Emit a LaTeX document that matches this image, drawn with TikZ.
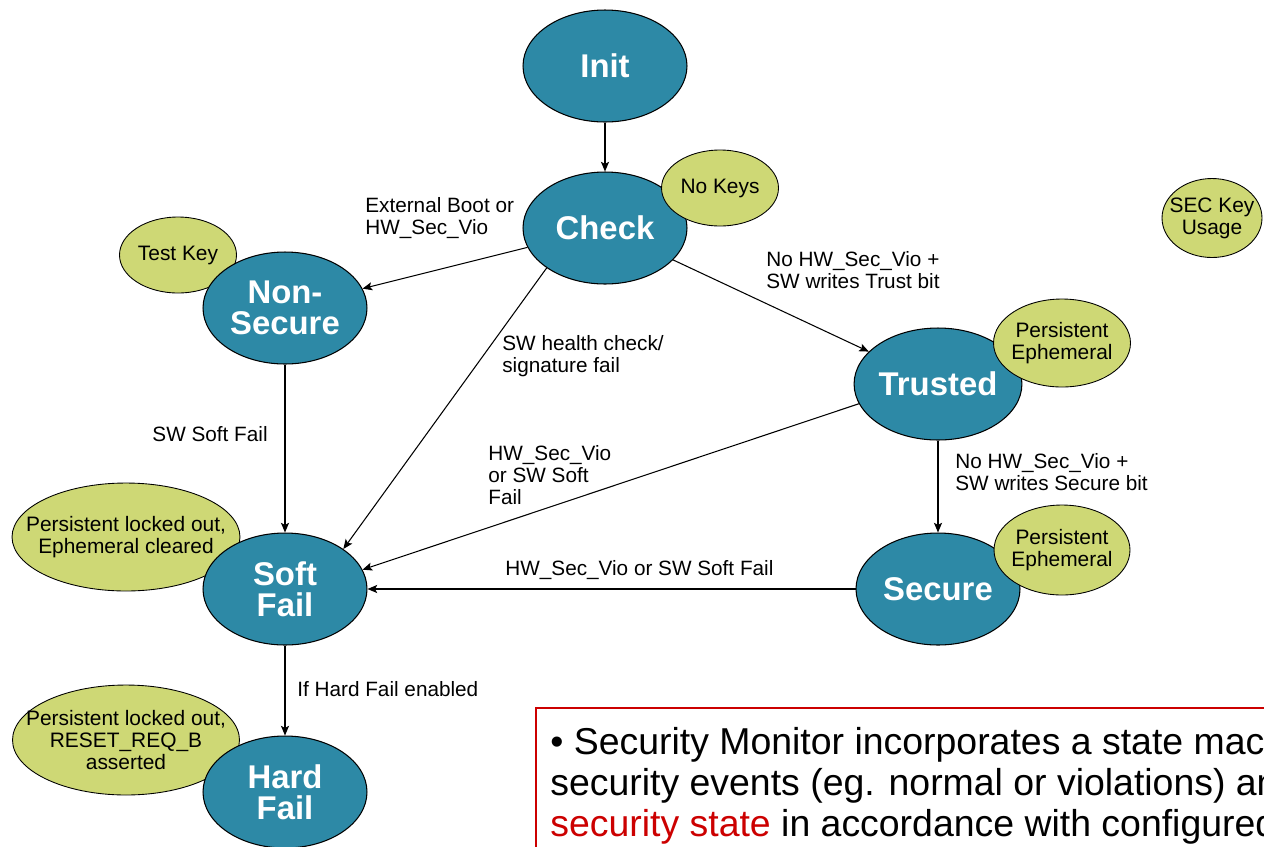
\documentclass[tikz,border=0pt]{standalone}
\usepackage{fontspec}
\setmainfont{Liberation Sans}
\usepackage{xcolor}
\usepackage{tikz}
\usetikzlibrary{arrows.meta,shapes.geometric,positioning}

\definecolor{stateteal}{RGB}{45,137,166}
\definecolor{notelime}{RGB}{206,216,117}
\definecolor{boxred}{RGB}{204,0,0}

\begin{document}
\begin{tikzpicture}[x=0.02cm, y=-0.02cm, >={Stealth[length=5.5pt,width=4.6pt,inset=1.2pt]},
  state/.style={ellipse, draw=black, line width=0.6pt, fill=stateteal, text=white, inner sep=0pt,
    minimum width=3.28cm, minimum height=2.24cm, align=center,
    font=\bfseries\fontsize{18.7}{17.6}\selectfont},
  note/.style={ellipse, draw=black, line width=0.5pt, fill=notelime, text=black,
    inner xsep=-60pt, inner ysep=-30pt,
    align=center, font=\fontsize{11.9}{12.4}\selectfont},
  trans/.style={->, line width=0.6pt, black},
  cond/.style={inner sep=0pt, align=left, font=\fontsize{11.8}{12.6}\selectfont}
]

\useasboundingbox (0,0) rectangle (1264,846);
\clip (0,0) rectangle (1264,846);

% ---------------- 1. NOTES BEHIND THE STATES (left side) ----------------
\node[note, minimum width=2.34cm, minimum height=1.52cm] (testkey) at (178,255) {Test Key};
\node[note, minimum width=4.56cm, minimum height=2.16cm] (softnote) at (126,537)
  {Persistent locked out,\\Ephemeral cleared};
\node[note, minimum width=4.54cm, minimum height=2.2cm] (hardnote) at (126,740)
  {Persistent locked out,\\RESET\_REQ\_B\\asserted};

% ---------------- 2. STATES ----------------
\node[state] (init)      at (605,66)  {Init};
\node[state] (check)     at (605,228) {Check};
\node[state] (nonsecure) at (285,308) {Non-\\Secure};
\node[state] (trusted)   at (938,384) {Trusted};
\node[state] (softfail)  at (285,589) {Soft\\Fail};
\node[state] (secure)    at (938,589) {Secure};
\node[state] (hardfail)  at (285,792) {Hard\\Fail};

% ---------------- 3. NOTES ON TOP (right side) ----------------
\node[note, minimum width=2.34cm, minimum height=1.52cm] (nokeys) at (720,188) {No Keys};
\node[note, minimum width=2.74cm, minimum height=1.76cm] (trustnote) at (1062,343)
  {Persistent\\Ephemeral};
\node[note, minimum width=2.72cm, minimum height=1.8cm] (securenote) at (1062,550)
  {Persistent\\Ephemeral};
\node[note, minimum width=2.0cm, minimum height=1.58cm] (keyusage) at (1212,218)
  {SEC Key\\Usage};

% ---------------- 4. TRANSITIONS ----------------
\draw[trans] (init) -- (check);
\draw[trans] (check) -- (nonsecure);
\draw[trans] (check) -- (trusted);
\draw[trans] (check.south west) -- (softfail.north east);
\draw[trans] (nonsecure) -- (softfail);
\draw[trans] (trusted.194) -- (softfail.14);
\draw[trans] (trusted) -- (secure);
\draw[trans] (secure) -- (softfail);
\draw[trans] (softfail) -- (hardfail);

% ---------------- 5. CONDITIONS ----------------
\node[cond, anchor=west] (c1) at (365,218) {External Boot or\\HW\_Sec\_Vio};
\node[cond, anchor=west] (c2) at (766,270) {No HW\_Sec\_Vio +\\SW writes Trust bit};
\node[cond, anchor=west] (c3) at (502,356) {SW health check/\\signature fail};
\node[cond, anchor=east] (c4) at (268,434) {SW Soft Fail};
\node[cond, anchor=west] (c5) at (488,475) {HW\_Sec\_Vio\\or SW Soft\\Fail};
\node[cond, anchor=west] (c6) at (955,472) {No HW\_Sec\_Vio +\\SW writes Secure bit};
\node[cond, anchor=west] (c7) at (505,570) {HW\_Sec\_Vio or SW Soft Fail};
\node[cond, anchor=west] (c8) at (297,689) {If Hard Fail enabled};

% ---------------- 6. CALLOUT BOX (cut by the page edge) ----------------
\draw[boxred, line width=1.1pt] (536,708) rectangle (1320,900);
\node[inner sep=0pt, anchor=north west, align=left, font=\fontsize{21.3}{23.2}\selectfont] (callout)
  at (550,727) {• Security Monitor incorporates a state machine\\
  security events (eg. normal or violations) and\\
  \textcolor{boxred}{security state} in accordance with configured};

\end{tikzpicture}
\end{document}
